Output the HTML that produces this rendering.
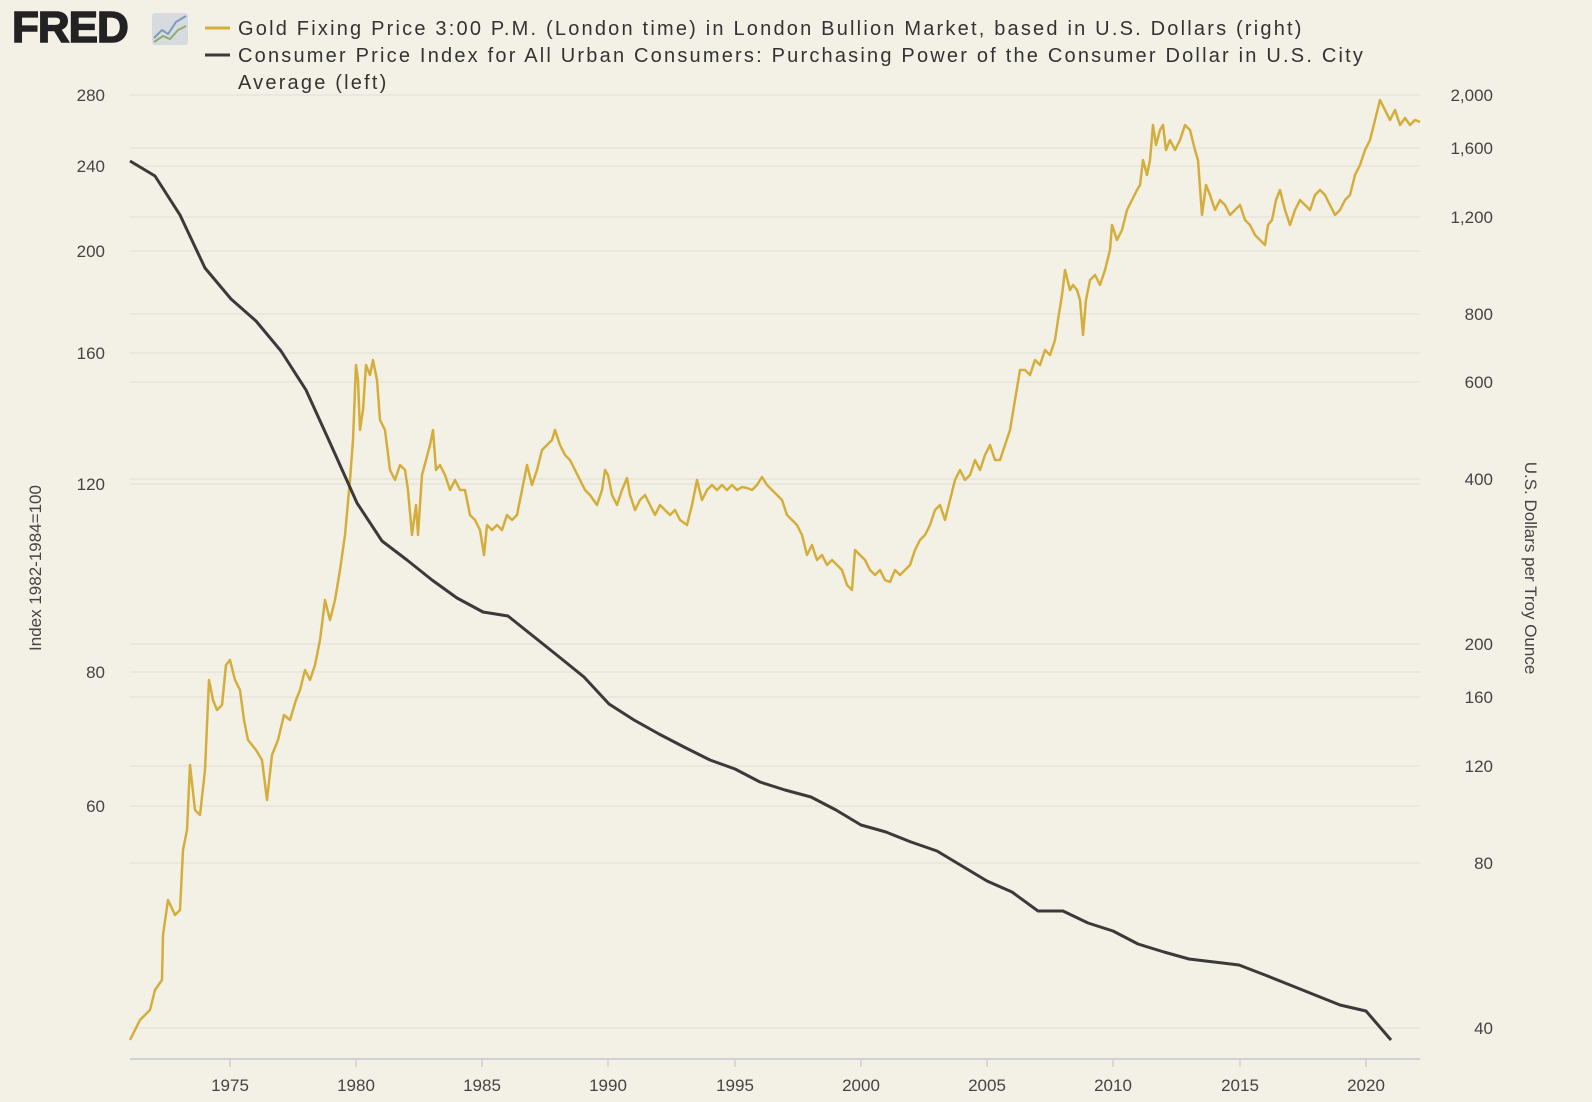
<!DOCTYPE html>
<html><head><meta charset="utf-8"><style>
html,body{margin:0;padding:0;background:#f3f1e6;}
svg{display:block;font-family:"Liberation Sans",sans-serif;}
</style></head><body>
<svg width="1592" height="1102" viewBox="0 0 1592 1102">
<rect width="1592" height="1102" fill="#f3f1e6"/>
<text x="12" y="42" font-size="44" font-weight="bold" fill="#222" stroke="#222" stroke-width="1.5" letter-spacing="-1">FRED</text>
<rect x="152" y="13" width="36" height="32" rx="3" fill="#d7dbe0"/>
<polyline points="154,38 162,30 168,34 176,22 186,16" fill="none" stroke="#7a9cc0" stroke-width="2"/>
<polyline points="154,42 163,36 170,39 178,30 186,26" fill="none" stroke="#8ab06c" stroke-width="2"/>
<g font-size="20" fill="#333" letter-spacing="2.2">
<line x1="205" y1="28" x2="230" y2="28" stroke="#d4ae3c" stroke-width="3"/>
<text x="238" y="35">Gold Fixing Price 3:00 P.M. (London time) in London Bullion Market, based in U.S. Dollars (right)</text>
<line x1="205" y1="55" x2="230" y2="55" stroke="#3a3a3a" stroke-width="3"/>
<text x="238" y="62">Consumer Price Index for All Urban Consumers: Purchasing Power of the Consumer Dollar in U.S. City</text>
<text x="238" y="89">Average (left)</text>
</g>
<g stroke="#e2e0d6" stroke-width="1">
<line x1="130" y1="95" x2="1420" y2="95"/><line x1="130" y1="166" x2="1420" y2="166"/><line x1="130" y1="251" x2="1420" y2="251"/><line x1="130" y1="353" x2="1420" y2="353"/><line x1="130" y1="484" x2="1420" y2="484"/><line x1="130" y1="672" x2="1420" y2="672"/><line x1="130" y1="806" x2="1420" y2="806"/>
<line x1="130" y1="148" x2="1420" y2="148"/><line x1="130" y1="217" x2="1420" y2="217"/><line x1="130" y1="314" x2="1420" y2="314"/><line x1="130" y1="382" x2="1420" y2="382"/><line x1="130" y1="479" x2="1420" y2="479"/><line x1="130" y1="644" x2="1420" y2="644"/><line x1="130" y1="697" x2="1420" y2="697"/><line x1="130" y1="766" x2="1420" y2="766"/><line x1="130" y1="863" x2="1420" y2="863"/><line x1="130" y1="1028" x2="1420" y2="1028"/>
</g>
<line x1="130" y1="1059" x2="1420" y2="1059" stroke="#cdd1d8" stroke-width="2"/>
<g stroke="#cdd1d8" stroke-width="1.5">
<line x1="230" y1="1059" x2="230" y2="1067"/><line x1="356" y1="1059" x2="356" y2="1067"/><line x1="482" y1="1059" x2="482" y2="1067"/><line x1="608" y1="1059" x2="608" y2="1067"/><line x1="735" y1="1059" x2="735" y2="1067"/><line x1="861" y1="1059" x2="861" y2="1067"/><line x1="987" y1="1059" x2="987" y2="1067"/><line x1="1113" y1="1059" x2="1113" y2="1067"/><line x1="1240" y1="1059" x2="1240" y2="1067"/><line x1="1366" y1="1059" x2="1366" y2="1067"/>
</g>
<g font-size="17" fill="#444" text-anchor="middle">
<text x="230" y="1091">1975</text><text x="356" y="1091">1980</text><text x="482" y="1091">1985</text><text x="608" y="1091">1990</text><text x="735" y="1091">1995</text><text x="861" y="1091">2000</text><text x="987" y="1091">2005</text><text x="1113" y="1091">2010</text><text x="1240" y="1091">2015</text><text x="1366" y="1091">2020</text>
</g>
<g font-size="17" fill="#444" text-anchor="end">
<text x="105" y="101">280</text><text x="105" y="172">240</text><text x="105" y="257">200</text><text x="105" y="359">160</text><text x="105" y="490">120</text><text x="105" y="678">80</text><text x="105" y="812">60</text>
<text x="1493" y="101">2,000</text><text x="1493" y="154">1,600</text><text x="1493" y="223">1,200</text><text x="1493" y="320">800</text><text x="1493" y="388">600</text><text x="1493" y="485">400</text><text x="1493" y="650">200</text><text x="1493" y="703">160</text><text x="1493" y="772">120</text><text x="1493" y="869">80</text><text x="1493" y="1034">40</text>
</g>
<text transform="translate(41,568) rotate(-90)" font-size="17" fill="#444" text-anchor="middle">Index 1982-1984=100</text>
<text transform="translate(1525,568) rotate(90)" font-size="17" fill="#444" text-anchor="middle">U.S. Dollars per Troy Ounce</text>
<polyline fill="none" stroke="#d4ae3c" stroke-width="2.5" stroke-linejoin="round" points="130,1040 140,1020 150,1010 155,990 162,980 163,935 168,900 175,915 180,910 183,850 187,830 190,765 195,810 200,815 205,770 209,680 213,700 217,710 222,705 226,665 230,660 235,680 240,690 244,720 248,740 252,745 256,750 262,760 267,800 272,755 278,740 284,715 290,720 296,700 300,690 305,670 310,680 315,665 320,640 325,600 330,620 335,600 340,570 345,535 350,480 353,440 356,365 358,380 360,430 363,410 366,365 370,375 373,360 377,380 380,420 385,430 390,470 395,480 400,465 405,470 408,490 412,535 416,505 418,535 422,475 426,460 430,445 433,430 436,470 440,465 445,475 450,490 455,480 460,490 465,490 470,515 475,520 480,530 484,555 487,525 492,530 497,525 502,530 507,515 512,520 517,515 522,490 527,465 532,485 537,470 542,450 547,445 552,440 555,430 560,445 565,455 570,460 575,470 580,480 585,490 590,495 597,505 602,490 605,470 608,475 612,495 617,505 622,490 627,478 630,495 635,510 640,500 645,495 650,505 655,515 660,505 665,510 670,515 675,510 680,520 687,525 692,505 697,480 702,500 707,490 712,485 717,490 722,485 727,490 732,485 737,490 742,487 747,488 752,490 757,485 762,477 767,485 772,490 777,495 782,500 787,515 792,520 797,525 802,535 807,555 812,545 817,560 822,555 827,565 832,560 837,565 842,570 847,585 852,590 855,550 860,555 865,560 870,570 875,575 880,570 885,580 890,582 895,570 900,575 905,570 910,565 915,550 920,540 925,535 930,525 935,510 940,505 945,520 950,500 955,480 960,470 965,480 970,475 975,460 980,470 985,455 990,445 995,460 1000,460 1005,445 1010,430 1015,400 1020,370 1025,370 1030,375 1035,360 1040,365 1045,350 1050,355 1055,340 1058,320 1062,295 1065,270 1070,290 1073,285 1077,290 1080,300 1083,335 1086,300 1090,280 1095,275 1100,285 1105,270 1110,250 1112,225 1117,240 1122,230 1127,210 1132,200 1137,190 1140,185 1143,160 1147,175 1150,160 1153,125 1156,145 1160,130 1163,125 1166,150 1170,140 1175,150 1180,140 1185,125 1190,130 1195,150 1198,160 1202,215 1206,185 1210,195 1215,210 1220,200 1225,205 1230,215 1235,210 1240,205 1245,220 1250,225 1255,235 1260,240 1265,245 1268,225 1272,220 1276,200 1280,190 1285,210 1290,225 1295,210 1300,200 1305,205 1310,210 1315,195 1320,190 1325,195 1330,205 1335,215 1340,210 1345,200 1350,195 1355,175 1360,165 1365,150 1370,140 1375,120 1380,100 1385,110 1390,120 1395,110 1400,125 1405,118 1410,125 1415,120 1420,122"/>
<polyline fill="none" stroke="#3a3a3a" stroke-width="3" stroke-linejoin="round" points="130,161 155,176 180,215 205,268 231,299 256,321 281,351 306,390 331,445 357,503 382,541 407,560 432,580 457,598 483,612 508,616 533,636 558,656 584,677 609,704 634,720 659,734 684,747 710,760 735,769 760,782 785,790 811,797 836,810 861,825 886,832 911,842 937,851 962,866 987,881 1012,892 1038,911 1063,911 1088,923 1113,931 1138,944 1164,952 1189,959 1214,962 1239,965 1265,975 1290,985 1315,995 1340,1005 1366,1011 1391,1040"/>
</svg>
</body></html>
